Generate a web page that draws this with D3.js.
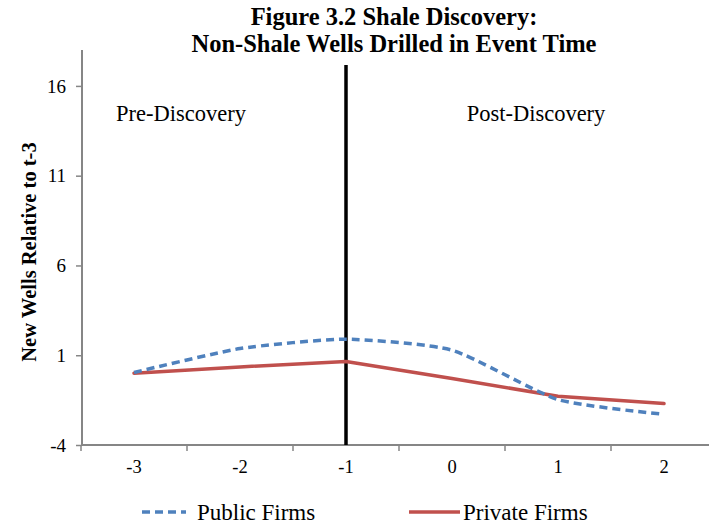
<!DOCTYPE html>
<html><head><meta charset="utf-8">
<script src="https://cdn.jsdelivr.net/npm/d3@7"></script>
<style>body{margin:0;background:#fff}svg{display:block}text{font-family:"Liberation Serif","Times New Roman",serif}</style>
</head><body><svg id="c" width="709" height="527"></svg>
<script>
const categories = ["-3","-2","-1","0","1","2"];
const publicFirms = [0.04, 1.37, 1.89, 1.28, -1.47, -2.29];
const privateFirms = [0.0, 0.35, 0.65, -0.30, -1.28, -1.69];
const yTicks = [-4, 1, 6, 11, 16];
const seriesNames = ["Public Firms", "Private Firms"];
const eventCategory = "-1";

const svg = d3.select("#c");
const x = d3.scaleBand().domain(categories).range([81, 717]);
const y = d3.scaleLinear().domain([-4, 18]).range([445, 50]);
const cx = d => x(d) + x.bandwidth() / 2;

// title
svg.append("text").attr("x", 394).attr("y", 25).attr("text-anchor", "middle")
  .attr("font-size", 24.5).attr("font-weight", "bold").text("Figure 3.2 Shale Discovery:");
svg.append("text").attr("x", 394).attr("y", 52).attr("text-anchor", "middle")
  .attr("font-size", 24.5).attr("font-weight", "bold").text("Non-Shale Wells Drilled in Event Time");

// y axis
const ya = svg.append("g").attr("transform", "translate(82,0)")
  .call(d3.axisLeft(y).tickValues(yTicks).tickSize(6).tickPadding(10).tickFormat(d => String(d)));
ya.select(".domain").attr("stroke", "#868686").attr("stroke-width", 2).attr("d", `M0,${y(18)}V${y(-4)}`);
ya.selectAll(".tick line").attr("stroke", "#868686").attr("stroke-width", 1.5);
ya.selectAll(".tick text").attr("font-size", 19).attr("fill", "#000");

// x axis
const xa = svg.append("g").attr("transform", `translate(0,${y(-4)})`)
  .call(d3.axisBottom(x).tickSize(0));
xa.select(".domain").attr("stroke", "#868686").attr("stroke-width", 2).attr("d", `M81,0H709`);
xa.selectAll(".tick text").attr("font-size", 18.5).attr("fill", "#000").attr("y", 28).attr("dy", 0);
// category boundary ticks
svg.append("g").selectAll("line").data(categories.map(c => x(c)))
  .join("line").attr("x1", d => d).attr("x2", d => d)
  .attr("y1", y(-4)).attr("y2", y(-4) + 6).attr("stroke", "#868686").attr("stroke-width", 1.5);

// y axis title
svg.append("text").attr("transform", "translate(36,252) rotate(-90)").attr("text-anchor", "middle")
  .attr("font-size", 20.5).attr("font-weight", "bold").text("New Wells Relative to t-3");

// region labels
svg.append("text").attr("x", 181).attr("y", 121).attr("text-anchor", "middle").attr("font-size", 22.5).text("Pre-Discovery");
svg.append("text").attr("x", 536).attr("y", 121).attr("text-anchor", "middle").attr("font-size", 22.5).text("Post-Discovery");

// event line
svg.append("line").attr("x1", cx(eventCategory)).attr("x2", cx(eventCategory))
  .attr("y1", 65).attr("y2", y(-4)).attr("stroke", "#000").attr("stroke-width", 3.5);

// series
const pubLine = d3.line().x((d, i) => cx(categories[i])).y(d => y(d)).curve(d3.curveCardinal.tension(0.4));
const privLine = d3.line().x((d, i) => cx(categories[i])).y(d => y(d));
svg.append("path").datum(privateFirms).attr("d", privLine).attr("fill", "none")
  .attr("stroke", "#C0504D").attr("stroke-width", 3.5).attr("stroke-linecap", "round").attr("stroke-linejoin", "round");
svg.append("path").datum(publicFirms).attr("d", pubLine).attr("fill", "none")
  .attr("stroke", "#4F81BD").attr("stroke-width", 3.5).attr("stroke-dasharray", "8,5");

// legend
const lg = svg.append("g");
lg.append("line").attr("x1", 142).attr("x2", 186).attr("y1", 512).attr("y2", 512)
  .attr("stroke", "#4F81BD").attr("stroke-width", 3.5).attr("stroke-dasharray", "8,5");
lg.append("text").attr("x", 197).attr("y", 520).attr("font-size", 23).text(seriesNames[0]);
lg.append("line").attr("x1", 409).attr("x2", 460).attr("y1", 512).attr("y2", 512)
  .attr("stroke", "#C0504D").attr("stroke-width", 3.5);
lg.append("text").attr("x", 463).attr("y", 520).attr("font-size", 23).text(seriesNames[1]);
</script></body></html>
